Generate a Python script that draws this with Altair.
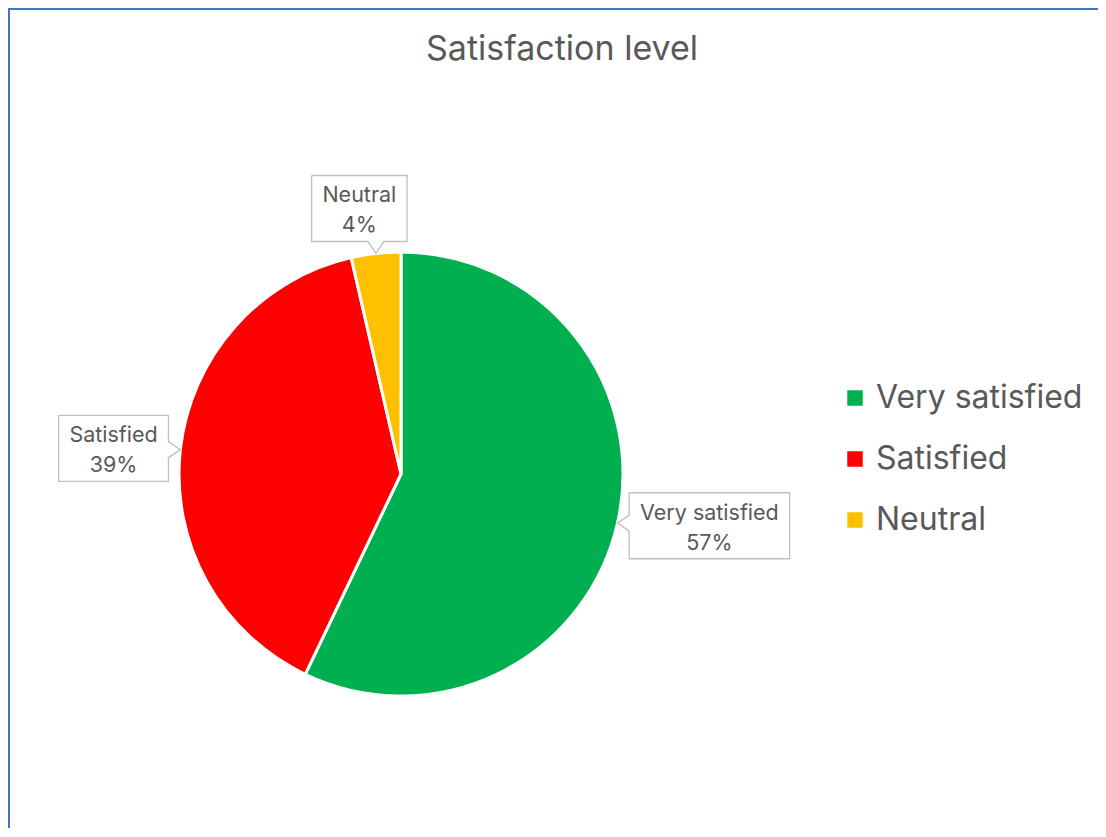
import math
import altair as alt
import pandas as pd

# ---------------- data ----------------
categories = ["Very satisfied", "Satisfied", "Neutral"]
shares = [57.1, 39.3, 3.6]
colors = ["#00B050", "#FF0000", "#FFC000"]
title_text = "Satisfaction level"

# ---------------- layout / style ----------------
W, H = 1090, 820
CX, CY, R = 393, 466, 221
GAP = 13
TEXT = "#595959"
FONT = "Inter"
LABEL_SIZE = 21.5
BOX_H = 66

total = sum(shares)
pct_labels = [f"{round(v / total * 100)}%" for v in shares]

# rough glyph widths (em) for sizing callout boxes
_em = {"V": .667, "e": .556, "r": .333, "y": .5, " ": .278, "s": .5, "a": .556,
       "t": .278, "i": .222, "f": .278, "d": .556, "S": .667, "N": .722,
       "u": .556, "l": .222, "%": .889}


def est_width(s, size=23.4):
    return sum(_em.get(c, .556) for c in s) * size


arc_df = pd.DataFrame({"category": categories, "share": shares,
                       "idx": list(range(len(categories)))})

box_rows, text_rows = [], []
cum = 0.0
for i, (cat, v) in enumerate(zip(categories, shares)):
    a0 = cum / total * 2 * math.pi
    cum += v
    a1 = cum / total * 2 * math.pi
    mid = (a0 + a1) / 2
    ux, uy = math.sin(mid), -math.cos(mid)
    ax, ay = CX + (R + GAP) * ux, CY + (R + GAP) * uy
    tx, ty = CX + (R + 1) * ux, CY + (R + 1) * uy
    bw = max(est_width(cat), est_width(pct_labels[i])) + 20
    bh = BOX_H
    if abs(ux) >= abs(uy):
        left = ax if ux > 0 else ax - bw
        top = ay - bh / 2
        side = "left" if ux > 0 else "right"
    else:
        # top/bottom callouts sit with the pointer toward their right part
        left = ax - bw * 0.66
        top = ay if uy > 0 else ay - bh
        side = "top" if uy > 0 else "bottom"
    right, bottom = left + bw, top + bh
    nx = min(max(tx, left + 10), right - 10)
    ny = min(max(ty, top + 10), bottom - 10)
    pts = [(left, top)]
    if side == "top":
        pts += [(nx - 8, top), (tx, ty), (nx + 8, top)]
    pts += [(right, top)]
    if side == "right":
        pts += [(right, ny - 8), (tx, ty), (right, ny + 8)]
    pts += [(right, bottom)]
    if side == "bottom":
        pts += [(nx + 8, bottom), (tx, ty), (nx - 8, bottom)]
    pts += [(left, bottom)]
    if side == "left":
        pts += [(left, ny + 8), (tx, ty), (left, ny - 8)]
    pts += [(left, top)]
    for k, (px, py) in enumerate(pts):
        box_rows.append({"label": cat, "k": k, "px": px, "py": py})
    cx_box = (left + right) / 2
    cy_box = (top + bottom) / 2
    text_rows.append({"px": cx_box, "py": cy_box - 6, "t": cat})
    text_rows.append({"px": cx_box, "py": cy_box + 24, "t": pct_labels[i]})

box_df = pd.DataFrame(box_rows)
text_df = pd.DataFrame(text_rows)

xs = alt.Scale(domain=[0, W], range=[0, W], nice=False, zero=False)
ys = alt.Scale(domain=[0, H], range=[0, H], nice=False, zero=False)

pie = alt.Chart(arc_df).mark_arc(outerRadius=222, stroke="white", strokeWidth=3).encode(
    theta=alt.Theta("share:Q", stack=True),
    order=alt.Order("idx:Q"),
    color=alt.Color(
        "category:N",
        scale=alt.Scale(domain=categories, range=colors),
        sort=categories,
        legend=alt.Legend(
            orient="none", legendX=831, legendY=374, title=None,
            symbolType="square", symbolSize=240, symbolStrokeWidth=0,
            labelFontSize=32, labelFont=FONT, labelColor=TEXT,
            rowPadding=29, labelOffset=5, padding=0, labelLimit=500,
        ),
    ),
    x=alt.value(CX),
    y=alt.value(CY),
)

boxes = alt.Chart(box_df).mark_line(stroke="#BFBFBF", strokeWidth=1.3).encode(
    x=alt.X("px:Q", scale=xs, axis=None),
    y=alt.Y("py:Q", scale=ys, axis=None),
    detail="label:N",
    order="k:Q",
)

texts = alt.Chart(text_df).mark_text(
    fontSize=LABEL_SIZE, font=FONT, color=TEXT, baseline="alphabetic", align="center"
).encode(
    x=alt.X("px:Q", scale=xs, axis=None),
    y=alt.Y("py:Q", scale=ys, axis=None),
    text="t:N",
)

title = alt.Chart(pd.DataFrame({"t": [title_text]})).mark_text(
    fontSize=34, font=FONT, color=TEXT, baseline="alphabetic", align="center"
).encode(text="t:N", x=alt.value(554), y=alt.value(52))

one = pd.DataFrame({"d": [0]})
border_top = alt.Chart(one).mark_rule(color="#4472C4", strokeWidth=2).encode(
    x=alt.value(0), x2=alt.value(W), y=alt.value(1)
)
border_left = alt.Chart(one).mark_rule(color="#4472C4", strokeWidth=2).encode(
    x=alt.value(1), y=alt.value(0), y2=alt.value(H)
)

chart = alt.layer(pie, boxes, texts, title, border_top, border_left).properties(
    width=W, height=H, autosize="none", padding=0,
).configure_view(stroke=None)

chart.save("out.html", embed_options={"renderer": "svg", "actions": False})
